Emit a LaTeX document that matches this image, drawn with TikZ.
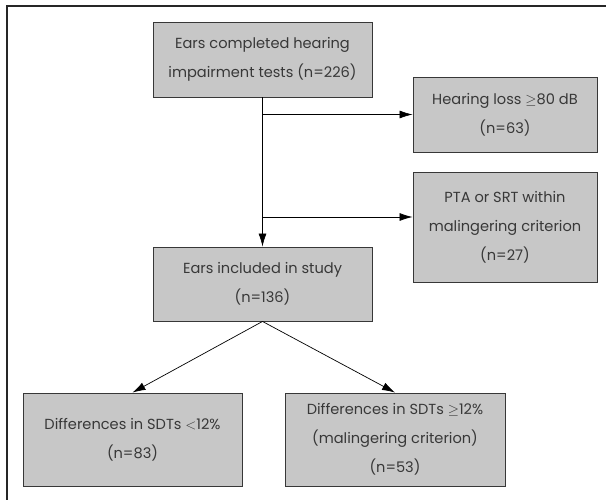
\documentclass[tikz,border=0pt]{standalone}
\usepackage{fontspec}
\setmainfont{Poppins}
\usepackage{xcolor}
\usepackage{tikz}
\usetikzlibrary{arrows.meta}
\definecolor{BoxGray}{rgb}{0.78,0.78,0.78}
\definecolor{InkGray}{rgb}{0.22,0.22,0.22}

\begin{document}
\begin{tikzpicture}[x=1pt, y=-1pt,
		box/.style={draw=InkGray, line width=0.9pt, fill=BoxGray, text=InkGray, align=center, inner sep=0pt, font=\fontsize{14.6}{29}\selectfont},
		link/.style={-{Latex[length=13pt, width=8pt]}, line width=0.7pt, black}]
		\useasboundingbox (0, 0) rectangle (606, 500);
		\draw [line width=1.2pt, black!85] (606, 6) -- (7, 6) -- (7, 500);
		
		\node[box, minimum width=219pt, minimum height=75pt] (tests) at (262.5, 59.5) {Ears completed hearing\\impairment tests (n=226)};
		\node[box, minimum width=184pt, minimum height=75pt] (loss) at (505, 114.5) {Hearing loss $\geq$80 dB\\(n=63)};
		\node[box, minimum width=184pt, minimum height=110pt] (pta) at (505, 227) {PTA or SRT within\\malingering criterion\\(n=27)};
		\node[box, minimum width=219pt, minimum height=74pt] (study) at (262.5, 284) {Ears included in study\\(n=136)};
		\node[box, minimum width=219pt, minimum height=93pt] (below) at (132.5, 439.5) {Differences in SDTs $<$12\%\\(n=83)};
		\node[box, minimum width=220pt, minimum height=93pt] (above) at (395, 439.5) {Differences in SDTs $\geq$12\%\\(malingering criterion)\\(n=53)};
		
		\coordinate (split1) at (262.5, 114.5);
		\coordinate (split2) at (262.5, 217);
		
		\draw [link] (tests.south) -- (study.north);
		\draw [link] (split1) -- (loss.west);
		\draw [link] (split2) -- (pta.west |- split2);
		\draw [link] (study.south) -- (below.north);
		\draw [link] (study.south) -- (above.north);
	\end{tikzpicture}
\end{document}
